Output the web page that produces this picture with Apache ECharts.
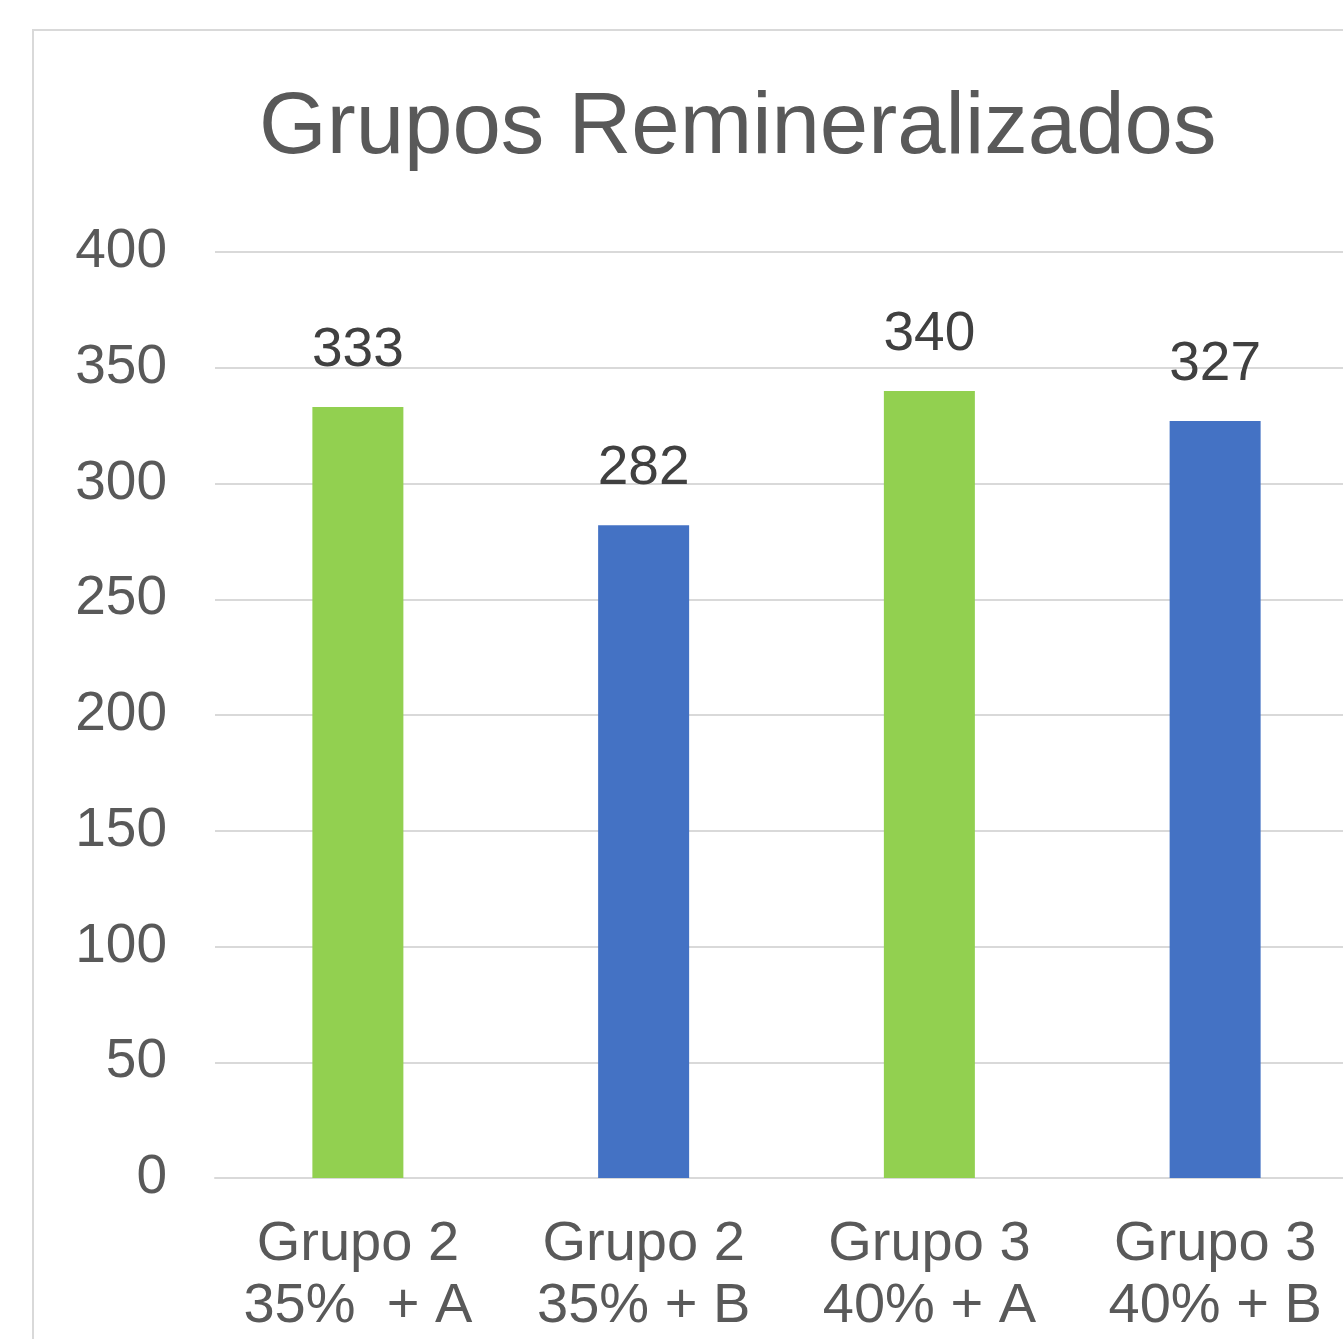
<!DOCTYPE html>
<html>
<head>
<meta charset="utf-8">
<script src="https://cdn.jsdelivr.net/npm/echarts@6/dist/echarts.min.js"></script>
<style>
html,body{margin:0;padding:0;background:#fff;overflow:hidden;width:1343px;height:1339px;}
#chart{width:1358px;height:1339px;}
</style>
</head>
<body>
<div id="chart"></div>
<script>
const titleText = 'Grupos Remineralizados';
const categories = ['Grupo 2\n35%  + A', 'Grupo 2\n35% + B', 'Grupo 3\n40% + A', 'Grupo 3\n40% + B'];
const values = [333, 282, 340, 327];
const barColors = ['#92D050', '#4472C4', '#92D050', '#4472C4'];
const yTicks = {min: 0, max: 400, interval: 50};

const FONT = '"Liberation Sans", Arial, sans-serif';
const chart = echarts.init(document.getElementById('chart'));
chart.setOption({
  backgroundColor: '#ffffff',
  animation: false,
  graphic: [{
    type: 'rect', silent: true,
    shape: {x: 33, y: 30, width: 1400, height: 1400},
    style: {fill: 'none', stroke: '#d9d9d9', lineWidth: 2}
  }],
  title: {
    text: titleText,
    left: 254, top: 81,
    textStyle: {fontFamily: FONT, fontSize: 87, fontWeight: 'normal', color: '#595959'}
  },
  grid: {left: 215, top: 252, right: 0, bottom: 161},
  xAxis: {
    type: 'category',
    data: categories,
    axisLine: {lineStyle: {color: '#d9d9d9', width: 2}},
    axisTick: {show: false},
    axisLabel: {fontFamily: FONT, fontSize: 56, lineHeight: 62, color: '#595959', margin: 36, interval: 0}
  },
  yAxis: {
    type: 'value',
    min: yTicks.min, max: yTicks.max, interval: yTicks.interval,
    axisLine: {show: false},
    axisTick: {show: false},
    splitLine: {lineStyle: {color: '#d9d9d9', width: 2}},
    axisLabel: {fontFamily: FONT, fontSize: 55, color: '#595959', margin: 48}
  },
  series: [{
    type: 'bar',
    barWidth: 91,
    data: values.map((v, i) => ({value: v, itemStyle: {color: barColors[i]}})),
    label: {show: true, position: 'top', distance: 29, fontFamily: FONT, fontSize: 55, color: '#404040'}
  }]
});
</script>
</body>
</html>
